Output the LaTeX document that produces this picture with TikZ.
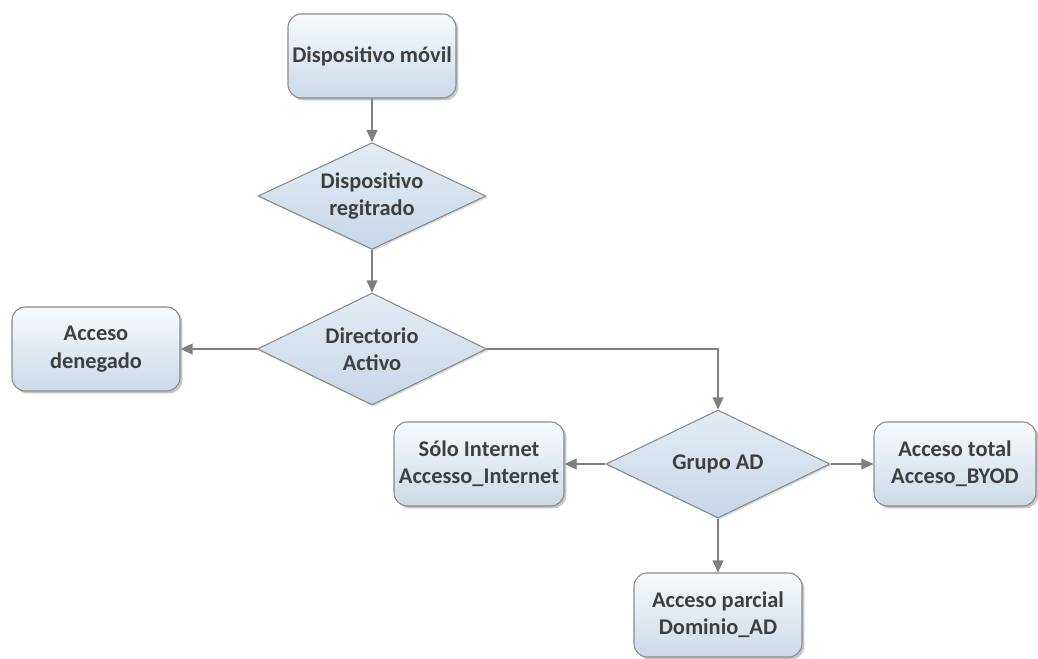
\documentclass[tikz,border=0pt]{standalone}
\usepackage{fontspec}
\setmainfont{Carlito}
\usetikzlibrary{shapes.geometric,arrows.meta,shadows}
\definecolor{flowink}{HTML}{3F3F3F}
\definecolor{flowline}{HTML}{7F7F7F}
\definecolor{flowedge}{HTML}{8A8A8A}
\definecolor{flowtop}{HTML}{F8FAFC}
\definecolor{flowbottom}{HTML}{CBDAE7}
\definecolor{flowdiamondtop}{HTML}{E4ECF4}
\definecolor{flowdiamondbottom}{HTML}{C7D7E6}

\begin{document}
\begin{tikzpicture}[
  x=0.75pt,
  y=-0.75pt,
  every node/.style={font=\fontsize{16.8}{20.5}\selectfont\bfseries, text=flowink, align=center},
  stepbox/.style={draw=flowedge, line width=0.8pt, rounded corners=10pt,
    top color=flowtop, bottom color=flowbottom,
    drop shadow={shadow xshift=1.8pt, shadow yshift=-1.8pt, opacity=0.45},
    minimum width=126pt, minimum height=63pt, inner sep=0pt},
  decision/.style={diamond, aspect=2.1, draw=flowedge, line width=0.8pt,
    top color=flowdiamondtop, bottom color=flowdiamondbottom,
    drop shadow={shadow xshift=1.2pt, shadow yshift=-1.2pt, opacity=0.3},
    minimum width=171pt, minimum height=80pt, inner sep=0pt},
  flow/.style={draw=flowline, line width=1.1pt, -{Triangle[length=9pt,width=8pt]}}
]
  \useasboundingbox (0,0) rectangle (1038,658);

  \node[stepbox] (mobile) at (372,56) {Dispositivo móvil};
  \node[decision] (registered) at (372,196) {Dispositivo\\regitrado};
  \node[decision, minimum width=172pt, minimum height=84pt] (active) at (372,349) {Directorio\\Activo};
  \node[stepbox] (denied) at (96,349) {Acceso\\denegado};
  \node[decision, minimum width=168pt, minimum height=81pt] (group) at (718,464) {Grupo AD};
  \node[stepbox, minimum width=127.5pt] (internet) at (479,464) {Sólo Internet\\Accesso\_Internet};
  \node[stepbox, minimum width=121.5pt] (total) at (955,464) {Acceso total\\Acceso\_BYOD};
  \node[stepbox] (partial) at (718,615) {Acceso parcial\\Dominio\_AD};

  \draw[flow] (mobile) -- (registered);
  \draw[flow] (registered) -- (active);
  \draw[flow] (active) -- (denied);
  \draw[flow] (active.east) -| (group.north);
  \draw[flow] (group) -- (internet);
  \draw[flow] (group) -- (total);
  \draw[flow] (group) -- (partial);
\end{tikzpicture}
\end{document}
